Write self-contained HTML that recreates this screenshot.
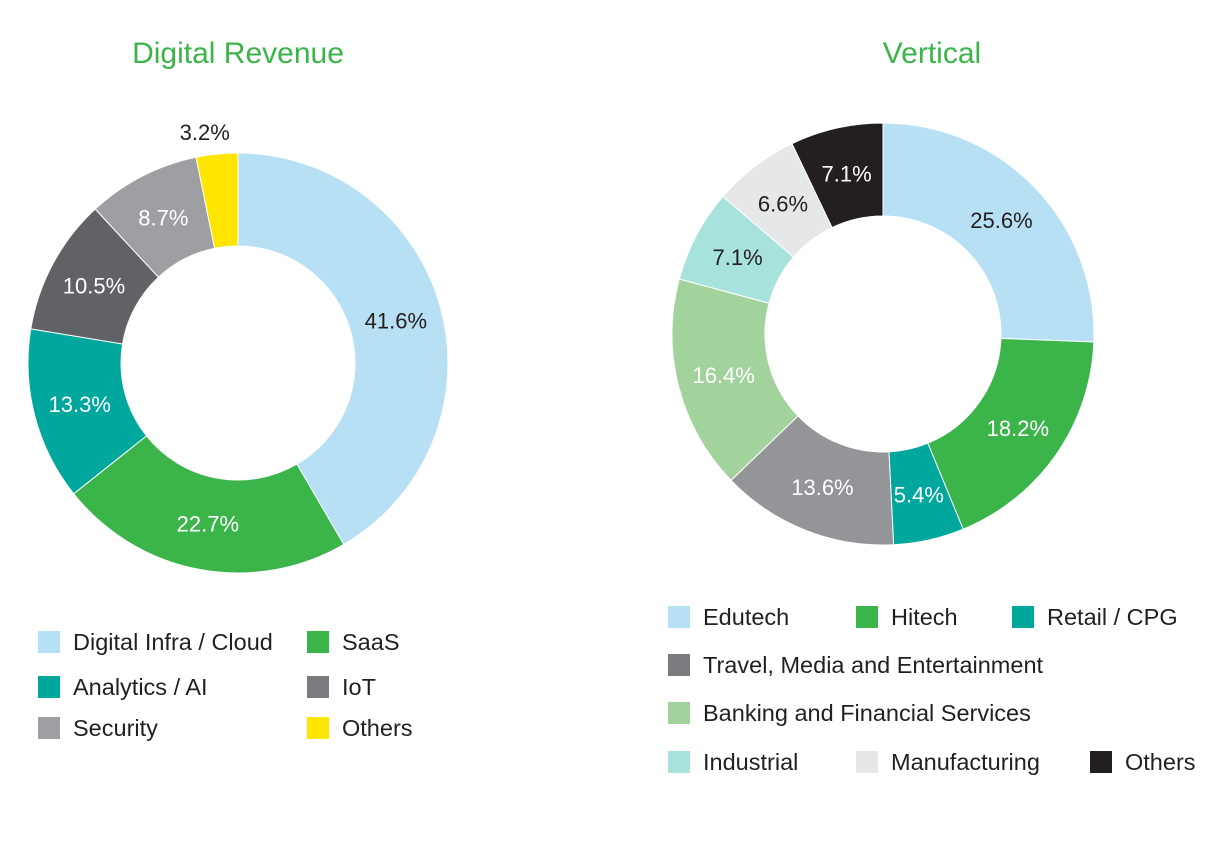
<!DOCTYPE html>
<html><head><meta charset="utf-8">
<style>
body{margin:0;background:#fff;width:1216px;height:853px;overflow:hidden;font-family:"Liberation Sans",sans-serif;}
svg{position:absolute;left:0;top:0}
</style></head>
<body>
<svg id="c" width="1216" height="853"></svg>
<script>
const leftCats=["Digital Infra / Cloud","SaaS","Analytics / AI","IoT","Security","Others"];
const leftVals=[41.6,22.7,13.3,10.5,8.7,3.2];
const leftColors=["#b8e0f5","#3bb54a","#00a79d","#616266","#9d9fa2","#ffe600"];
const leftText=["#231f20","#fff","#fff","#fff","#fff","#231f20"];
const rightCats=["Edutech","Hitech","Retail / CPG","Travel, Media and Entertainment","Banking and Financial Services","Industrial","Manufacturing","Others"];
const rightVals=[25.6,18.2,5.4,13.6,16.4,7.1,6.6,7.1];
const rightColors=["#b8e0f5","#3bb54a","#00a79d","#939598","#a3d39c","#a8e2dd","#e6e7e8","#231f20"];
const rightText=["#231f20","#fff","#fff","#fff","#fff","#231f20","#231f20","#fff"];
const NS="http://www.w3.org/2000/svg";
const svg=document.getElementById('c');
function mk(t,a){const e=document.createElementNS(NS,t);for(const k in a)e.setAttribute(k,a[k]);svg.appendChild(e);return e;}
function donut(cx,cy,R,r,vals,cols,tcols,name,labelOut){
  const tot=vals.reduce((a,b)=>a+b,0);let a0=0;
  vals.forEach((v,i)=>{
    const a1=a0+v/tot*2*Math.PI;
    const p=(a,rr)=>[cx+rr*Math.sin(a),cy-rr*Math.cos(a)];
    const [x0,y0]=p(a0,R),[x1,y1]=p(a1,R),[x2,y2]=p(a1,r),[x3,y3]=p(a0,r);
    const lg=(a1-a0)>Math.PI?1:0;
    const e=mk('path',{d:`M${x0},${y0}A${R},${R} 0 ${lg} 1 ${x1},${y1}L${x2},${y2}A${r},${r} 0 ${lg} 0 ${x3},${y3}Z`,fill:cols[i],stroke:'#fff','stroke-width':1});
    
    
    const am=(a0+a1)/2;let [lx,ly]=p(am,(R+r)/2);let tc=tcols[i];
    if(labelOut&&labelOut(i)){[lx,ly]=p(am,R+22);lx-=10;tc='#231f20';}
    const t=mk('text',{x:lx,y:ly+8,'text-anchor':'middle','font-size':22,fill:tc});
    t.textContent=v.toFixed(1)+'%';
    
    
    a0=a1;
  });
}
donut(238,363,210,117,leftVals,leftColors,leftText,'digital-revenue',i=>i===5);
donut(883,334,211,118,rightVals,rightColors,rightText,'vertical',null);
function title(x,s,n){const t=mk('text',{x:x,y:63,'text-anchor':'middle','font-size':30,fill:'#3bb54a'});t.textContent=s;}
title(238,'Digital Revenue','left-chart-title');title(932,'Vertical','right-chart-title');
function leg(x,y,col,label,n){
  const r=mk('rect',{x:x,y:y-11,width:22,height:22,fill:col});
  
  
  const t=mk('text',{x:x+35,y:y+8,'font-size':23.5,fill:'#231f20'});t.textContent=label;
  
  
}
const lp=[[38,642],[307,642],[38,687],[307,687],[38,728],[307,728]];
leftCats.forEach((c,i)=>leg(lp[i][0],lp[i][1],i===3?'#7a7b7e':leftColors[i],c,'left-legend-entry-'+i));
const rp=[[668,617],[856,617],[1012,617],[668,665],[668,713],[668,762],[856,762],[1090,762]];
rightCats.forEach((c,i)=>leg(rp[i][0],rp[i][1],i===3?'#7a7b7e':rightColors[i],c,'right-legend-entry-'+i));
</script>
</body></html>
